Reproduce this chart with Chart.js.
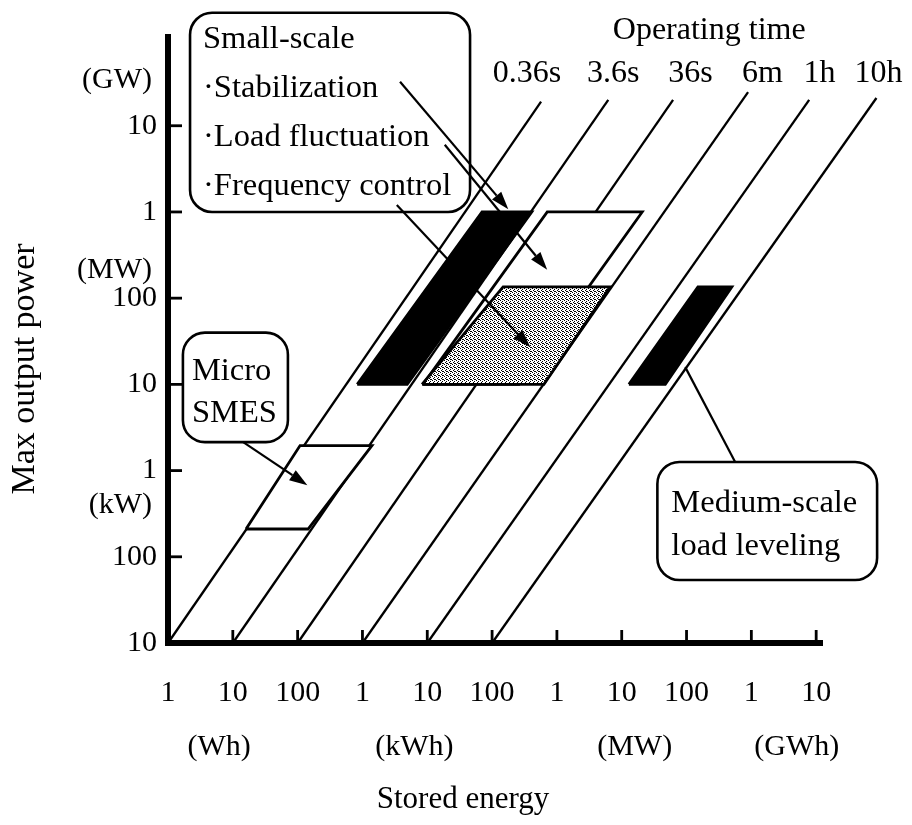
<!DOCTYPE html>
<html>
<head>
<meta charset="utf-8">
<script src="https://cdn.jsdelivr.net/npm/chart.js@4.4.1/dist/chart.umd.min.js"></script>
<style>
  html, body { margin: 0; padding: 0; background: #fff; }
</style>
</head>
<body>
<canvas id="smesChart" width="912" height="825"></canvas>
<script>
// Stored energy (Wh) on x, max output power (W) on y, both log
const energyTicks = [1, 10, 100, 1e3, 1e4, 1e5, 1e6, 1e7, 1e8, 1e9, 1e10];
const energyTickLabels = ['1', '10', '100', '1', '10', '100', '1', '10', '100', '1', '10'];
const powerTicks = [1e4, 1e5, 1e6, 1e7, 1e8, 1e9, 1e10];
const powerTickLabels = ['10', '100', '1', '10', '100', '1', '10'];

// operating time lines, from 10 kW up to where they stop in the drawing
const timeLabels = ['0.36s', '3.6s', '36s', '6m', '1h', '10h'];
const lineStartEnergy = [1, 10, 100, 1e3, 1e4, 1e5];
const lineStartPower = [1e4, 1e4, 1e4, 1e4, 1e4, 1e4];
const lineEndEnergy = [5.7e5, 6.2e6, 6.2e7, 8.9e8, 7.8e9, 8.5e10];
const lineEndPower = [1.9e10, 2.0e10, 2.0e10, 2.45e10, 2.0e10, 2.1e10];

// application regions, corners: bottom-left, bottom-right, top-right, top-left
const stabEnergy = [830, 4.9e3, 4.1e5, 7.0e4];
const stabPower = [1e7, 1e7, 1e9, 1e9];
const loadEnergy = [8.6e3, 2.6e5, 2.07e7, 7.1e5];
const loadPower = [1e7, 1e7, 1e9, 1e9];
const freqEnergy = [8.3e3, 6.3e5, 6.6e6, 1.48e5];
const freqPower = [1e7, 1e7, 1.35e8, 1.35e8];
const microEnergy = [16, 145, 1.4e3, 109];
const microPower = [2.1e5, 2.1e5, 1.95e6, 1.95e6];
const mediumEnergy = [1.29e7, 4.7e7, 5.0e8, 1.5e8];
const mediumPower = [1e7, 1e7, 1.35e8, 1.35e8];

const serif = "'Liberation Serif', 'Times New Roman', serif";

const canvas = document.getElementById('smesChart');
const ctx = canvas.getContext('2d');

// stipple for the frequency control area
const dots = document.createElement('canvas');
dots.width = 4;
dots.height = 4;
const dctx = dots.getContext('2d');
dctx.fillStyle = '#fff';
dctx.fillRect(0, 0, 4, 4);
dctx.fillStyle = '#000';
[[0, 0], [2, 1], [1, 2], [3, 3], [2, 3]].forEach(p => dctx.fillRect(p[0], p[1], 1, 1));
const stipple = ctx.createPattern(dots, 'repeat');

function shape(xs, ys) {
    const pts = xs.map((x, i) => ({ x: x, y: ys[i] }));
    pts.push(pts[0]);
    return pts;
}

function region(label, xs, ys, fill, order) {
    return {
        label: label,
        data: shape(xs, ys),
        showLine: true,
        fill: 'shape',
        backgroundColor: fill,
        borderColor: '#000',
        borderWidth: 2.8,
        pointRadius: 0,
        tension: 0,
        order: order
    };
}

const datasets = [
    region('Stabilization', stabEnergy, stabPower, '#000', 3),
    region('Frequency control', freqEnergy, freqPower, stipple, 4),
    region('Load fluctuation', loadEnergy, loadPower, '#fff', 5),
    region('Micro SMES', microEnergy, microPower, '#fff', 3),
    region('Medium-scale load leveling', mediumEnergy, mediumPower, '#000', 3)
];
timeLabels.forEach((t, i) => {
    datasets.push({
        label: t,
        data: [{ x: lineStartEnergy[i], y: lineStartPower[i] }, { x: lineEndEnergy[i], y: lineEndPower[i] }],
        showLine: true,
        borderColor: '#000',
        borderWidth: 2.3,
        pointRadius: 0,
        clip: false,
        order: 10
    });
});

// callouts, in log10 units of the axes
const notes = {
    boxes: [
        { x0: 0.34, x1: 4.66, y0: 11.31, y1: 9.0, dx: 13, rows: [
            ['Small-scale', 35], ['\u00b7Stabilization', 84], ['\u00b7Load fluctuation', 133], ['\u00b7Frequency control', 182]] },
        { x0: 0.23, x1: 1.85, y0: 7.60, y1: 6.33, dx: 9, rows: [['Micro', 47], ['SMES', 89]] },
        { x0: 7.55, x1: 10.94, y0: 6.10, y1: 4.73, dx: 14, rows: [['Medium-scale', 50], ['load leveling', 93]] }
    ],
    arrows: [
        [3.58, 10.51, 5.25, 9.03, true],
        [4.27, 9.78, 5.85, 8.33, true],
        [3.53, 9.08, 5.59, 7.43, true],
        [1.16, 6.33, 2.15, 5.83, true],
        [8.75, 6.10, 7.98, 7.20, false]
    ],
    timeX: [5.54, 6.87, 8.06, 9.17, 10.05, 10.96],
    timeY: 10.51,
    headerX: 8.35,
    headerY: 11.01,
    energyUnits: [['(Wh)', 0.79], ['(kWh)', 3.8], ['(MW)', 7.2], ['(GWh)', 9.7]],
    powerUnits: [['(GW)', 10.53], ['(MW)', 8.33], ['(kW)', 5.6]]
};

const whiteBg = {
    id: 'whiteBg',
    beforeDraw(chart) {
        const c = chart.ctx;
        c.save();
        c.fillStyle = '#fff';
        c.fillRect(0, 0, chart.width, chart.height);
        c.restore();
    }
};

const callouts = {
    id: 'callouts',
    afterDraw(chart) {
        const c = chart.ctx;
        const xs = chart.scales.x, ys = chart.scales.y;
        const X = e => xs.getPixelForValue(Math.pow(10, e));
        const Y = e => ys.getPixelForValue(Math.pow(10, e));
        const area = chart.chartArea;
        c.save();
        c.strokeStyle = '#000';
        c.fillStyle = '#000';

        // inward tick marks
        c.lineWidth = 2.8;
        energyTicks.forEach(v => {
            const px = xs.getPixelForValue(v);
            c.beginPath(); c.moveTo(px, area.bottom); c.lineTo(px, area.bottom - 13); c.stroke();
        });
        powerTicks.forEach(v => {
            const py = ys.getPixelForValue(v);
            c.beginPath(); c.moveTo(area.left, py); c.lineTo(area.left + 14, py); c.stroke();
        });

        // rounded text boxes
        notes.boxes.forEach(b => {
            const l = X(b.x0), r = X(b.x1), t = Y(b.y0), btm = Y(b.y1);
            c.beginPath();
            c.roundRect(l, t, r - l, btm - t, 22);
            c.fillStyle = '#fff';
            c.fill();
            c.lineWidth = 2.6;
            c.stroke();
            c.fillStyle = '#000';
            c.font = '32.5px ' + serif;
            c.textAlign = 'left';
            c.textBaseline = 'alphabetic';
            b.rows.forEach(row => c.fillText(row[0], l + b.dx, t + row[1]));
        });

        // pointers
        notes.arrows.forEach(a => {
            const x1 = X(a[0]), y1 = Y(a[1]), x2 = X(a[2]), y2 = Y(a[3]);
            const ang = Math.atan2(y2 - y1, x2 - x1);
            const head = a[4] ? 18 : 0;
            c.lineWidth = 2.2;
            c.beginPath();
            c.moveTo(x1, y1);
            c.lineTo(x2 - head * Math.cos(ang), y2 - head * Math.sin(ang));
            c.stroke();
            if (a[4]) {
                c.beginPath();
                c.moveTo(x2, y2);
                c.lineTo(x2 - head * Math.cos(ang) + 6 * Math.sin(ang), y2 - head * Math.sin(ang) - 6 * Math.cos(ang));
                c.lineTo(x2 - head * Math.cos(ang) - 6 * Math.sin(ang), y2 - head * Math.sin(ang) + 6 * Math.cos(ang));
                c.closePath();
                c.fill();
            }
        });

        // operating time header
        c.font = '32px ' + serif;
        c.textAlign = 'center';
        c.textBaseline = 'alphabetic';
        c.fillText('Operating time', X(notes.headerX), Y(notes.headerY));
        timeLabels.forEach((t, i) => c.fillText(t, X(notes.timeX[i]), Y(notes.timeY)));

        // unit labels
        c.font = '30px ' + serif;
        notes.energyUnits.forEach(u => c.fillText(u[0], X(u[1]), area.bottom + 112));
        c.textAlign = 'right';
        c.textBaseline = 'middle';
        notes.powerUnits.forEach(u => c.fillText(u[0], area.left - 16, Y(u[1])));

        // axis titles
        c.textAlign = 'center';
        c.font = '31px ' + serif;
        c.fillText('Stored energy', (area.left + area.right) / 2 - 32, area.bottom + 157);
        c.translate(25, 369);
        c.rotate(-Math.PI / 2);
        c.font = '34px ' + serif;
        c.fillText('Max output power', 0, 0);
        c.restore();
    }
};

new Chart(canvas, {
    type: 'scatter',
    data: { datasets: datasets },
    options: {
        responsive: false,
        animation: false,
        layout: { padding: { top: 37, right: 90, left: 0, bottom: 0 } },
        scales: {
            x: {
                type: 'logarithmic',
                min: 1,
                max: 1.23e10,
                afterBuildTicks: s => { s.ticks = energyTicks.map(v => ({ value: v })); },
                afterFit: s => { s.height = 182; },
                grid: { display: false, drawTicks: false },
                border: { display: true, width: 6, color: '#000' },
                ticks: {
                    autoSkip: false,
                    maxRotation: 0,
                    padding: 32,
                    color: '#000',
                    font: { family: serif, size: 30 },
                    callback: (v, i) => energyTickLabels[i]
                }
            },
            y: {
                type: 'logarithmic',
                min: 1e4,
                max: 1.07e11,
                afterBuildTicks: s => { s.ticks = powerTicks.map(v => ({ value: v })); },
                afterFit: s => { s.width = 168; },
                grid: { display: false, drawTicks: false },
                border: { display: true, width: 6, color: '#000' },
                ticks: {
                    autoSkip: false,
                    padding: 11,
                    color: '#000',
                    font: { family: serif, size: 30 },
                    callback: (v, i) => powerTickLabels[i]
                }
            }
        },
        plugins: {
            legend: { display: false },
            tooltip: { enabled: false }
        }
    },
    plugins: [whiteBg, callouts]
});
</script>
</body>
</html>
